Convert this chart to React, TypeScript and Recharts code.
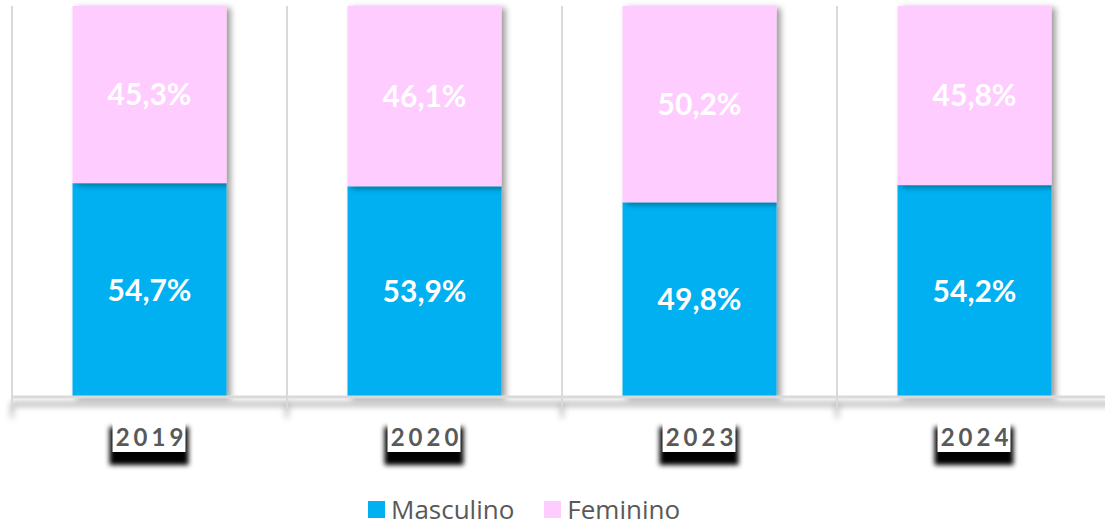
import { Bar, BarChart, CartesianGrid, LabelList, Legend, XAxis, YAxis } from 'recharts';

// distribuição por sexo, 100% empilhado
const YEARS = ['2019', '2020', '2023', '2024'];
const MASCULINO = [54.7, 53.9, 49.8, 54.2];
const FEMININO = [45.3, 46.1, 50.2, 45.8];

const BLUE = '#00B0F0';
const PINK = '#FFCCFF';
const GRID = '#d9d9d9';

const CHART_W = 1120;
const CHART_H = 527;
const MARGIN = { top: 6, right: 8, bottom: 0, left: 12 };
const BAND = (CHART_W - MARGIN.left - MARGIN.right) / YEARS.length;

const data = YEARS.map((year, i) => ({
  year,
  masculino: MASCULINO[i],
  feminino: FEMININO[i],
}));

const pct = (v: unknown) => `${Number(v).toFixed(1).replace('.', ',')}%`;

function ShadowRect(props: any) {
  const { x, y, width, height, fill } = props;
  return <rect x={x} y={y} width={width} height={height} fill={fill} filter="url(#barShadow)" />;
}

function YearTick({ x, y, payload }: any) {
  const left = x - BAND / 2;
  return (
    <g>
      <line x1={left} x2={left} y1={y} y2={y + 14} stroke={GRID} strokeWidth={2} filter="url(#lineShadow)" />
      <rect x={x - 40} y={y + 30} width={79} height={38} fill="#000" filter="url(#boxShadow)" />
      <rect x={x - 37} y={y + 24} width={73} height={31} fill="#fff" />
      <text
        x={x + 2}
        y={y + 49}
        textAnchor="middle"
        fontFamily="Lato, 'Open Sans', sans-serif"
        fontWeight={700}
        fontSize={24}
        letterSpacing={4}
        fill="#595959"
      >
        {payload.value}
      </text>
    </g>
  );
}

function LegendContent() {
  const items = [
    { label: 'Masculino', color: BLUE },
    { label: 'Feminino', color: PINK },
  ];
  return (
    <div
      style={{
        display: 'flex',
        alignItems: 'center',
        paddingLeft: 368,
        fontFamily: "'Open Sans', sans-serif",
        fontSize: 26,
        lineHeight: '30px',
        color: '#595959',
      }}
    >
      {items.map((it) => (
        <span key={it.label} style={{ display: 'inline-flex', alignItems: 'center', marginRight: 30 }}>
          <span style={{ width: 17, height: 17, background: it.color, display: 'inline-block', marginRight: 6 }} />
          {it.label}
        </span>
      ))}
    </div>
  );
}

export default function App() {
  return (
    <div style={{ position: 'relative', width: 1105, height: CHART_H, overflow: 'hidden', background: '#fff' }}>
      <style>{'body{margin:0}'}</style>
      <svg width={0} height={0} style={{ position: 'absolute' }}>
        <defs>
          <filter id="barShadow" x="-10%" y="-10%" width="130%" height="130%">
            <feDropShadow dx={4} dy={2} stdDeviation={3} floodColor="#000" floodOpacity={0.4} />
          </filter>
          <filter id="boxShadow" x="-20%" y="-20%" width="140%" height="140%">
            <feGaussianBlur stdDeviation={2.5} />
          </filter>
          <filter id="lineShadow" filterUnits="userSpaceOnUse" x={0} y={0} width={CHART_W} height={CHART_H}>
            <feDropShadow dx={0} dy={7} stdDeviation={3} floodColor="#000" floodOpacity={0.45} />
          </filter>
        </defs>
      </svg>
      <BarChart width={CHART_W} height={CHART_H} data={data} margin={MARGIN} barCategoryGap="22%">
        <CartesianGrid
          horizontal={false}
          stroke={GRID}
          strokeWidth={2}
          verticalCoordinatesGenerator={({ offset }: any) =>
            YEARS.map((_, i) => offset.left + (i * offset.width) / YEARS.length).concat(offset.left + offset.width)
          }
        />
        <XAxis
          dataKey="year"
          height={80}
          tickLine={false}
          tickSize={0}
          tickMargin={0}
          axisLine={{ stroke: GRID, strokeWidth: 3, filter: 'url(#lineShadow)' } as any}
          tick={<YearTick />}
          interval={0}
        />
        <YAxis hide domain={[0, 100]} />
        <Legend
          verticalAlign="bottom"
          height={50}
          content={<LegendContent />}
          wrapperStyle={{ left: 0, width: 1105, top: 494 }}
        />
        <Bar dataKey="masculino" name="Masculino" stackId="s" fill={BLUE} shape={<ShadowRect />} isAnimationActive={false}>
          <LabelList
            dataKey="masculino"
            position="center"
            formatter={pct}
            fill="#fff"
            fontFamily="Lato, 'Open Sans', sans-serif"
            fontWeight={700}
            fontSize={30}
          />
        </Bar>
        <Bar dataKey="feminino" name="Feminino" stackId="s" fill={PINK} shape={<ShadowRect />} isAnimationActive={false}>
          <LabelList
            dataKey="feminino"
            position="center"
            formatter={pct}
            fill="#fff"
            fontFamily="Lato, 'Open Sans', sans-serif"
            fontWeight={700}
            fontSize={30}
          />
        </Bar>
      </BarChart>
    </div>
  );
}
